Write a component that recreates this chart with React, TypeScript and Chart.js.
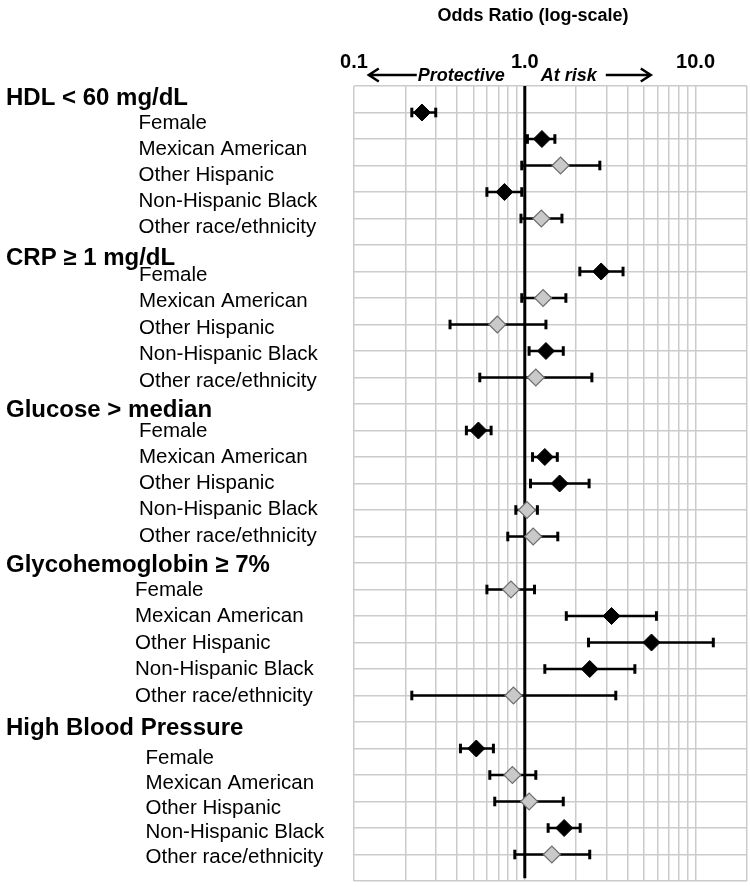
import React, { useEffect, useRef } from 'react';
import { Chart, registerables } from 'chart.js';

Chart.register(...registerables);

// ---------------- data ----------------
const groups = ['HDL < 60 mg/dL', 'CRP ≥ 1 mg/dL', 'Glucose > median', 'Glycohemoglobin ≥ 7%', 'High Blood Pressure'];
const subgroups = ['Female', 'Mexican American', 'Other Hispanic', 'Non-Hispanic Black', 'Other race/ethnicity'];

// odds ratio per group (rows follow subgroups)
const oddsRatio = [
  [0.25, 1.26, 1.62, 0.76, 1.25],
  [2.8, 1.28, 0.69, 1.33, 1.16],
  [0.535, 1.31, 1.6, 1.03, 1.12],
  [0.83, 3.22, 5.52, 2.4, 0.858],
  [0.52, 0.846, 1.06, 1.7, 1.44],
];
const lowerCI = [
  [0.218, 1.036, 0.96, 0.6, 0.95],
  [2.1, 0.96, 0.365, 1.06, 0.545],
  [0.455, 1.11, 1.08, 0.886, 0.795],
  [0.6, 1.75, 2.36, 1.31, 0.218],
  [0.42, 0.624, 0.667, 1.37, 0.874],
];
const upperCI = [
  [0.301, 1.5, 2.75, 0.96, 1.65],
  [3.76, 1.74, 1.33, 1.68, 2.47],
  [0.635, 1.55, 2.38, 1.185, 1.56],
  [1.14, 5.9, 12.7, 4.41, 3.41],
  [0.655, 1.16, 1.68, 2.11, 2.4],
];

const tickValues = [0.1, 1, 10];
const tickLabels = ['0.1', '1.0', '10.0'];
const axisTitle = 'Odds Ratio (log-scale)';
const leftNote = 'Protective';
const rightNote = 'At risk';

// ---------------- layout / style ----------------
const FONT = '"Liberation Sans", Arial, Helvetica, sans-serif';
const GRID = '#cbcbcb';
const headerBaselines = [105, 265, 416.7, 572.3, 735];
const itemFirstBaseline = [129.3, 280.7, 436.7, 596, 764];
const itemSpacing = [25.8, 26.5, 26.25, 26.4, 24.8];
const itemX = [138.5, 139, 139, 135, 145.5];
const ROWS_PER_GROUP = subgroups.length + 1;
const TOTAL_ROWS = groups.length * ROWS_PER_GROUP;

function rowOf(g: number, i: number) {
  return g * ROWS_PER_GROUP + 1 + i;
}

function drawArrow(ctx: CanvasRenderingContext2D, fromX: number, toX: number, y: number) {
  const d = Math.sign(toX - fromX);
  ctx.beginPath();
  ctx.moveTo(fromX, y);
  ctx.lineTo(toX, y);
  ctx.moveTo(toX - d * 10, y - 6.5);
  ctx.lineTo(toX, y);
  ctx.lineTo(toX - d * 10, y + 6.5);
  ctx.stroke();
}

const textPlugin = {
  id: 'forestText',
  afterDraw(chart: any) {
    const ctx: CanvasRenderingContext2D = chart.ctx;
    const xs = chart.scales.x;
    const one = xs.getPixelForValue(1);
    ctx.save();
    ctx.fillStyle = '#000';
    ctx.strokeStyle = '#000';
    ctx.textBaseline = 'alphabetic';
    ctx.textAlign = 'center';
    ctx.font = `bold 18px ${FONT}`;
    ctx.fillText(axisTitle, 533, 21);

    ctx.font = `italic bold 18px ${FONT}`;
    ctx.textAlign = 'right';
    ctx.fillText(leftNote, one - 20, 80.5);
    ctx.textAlign = 'left';
    ctx.fillText(rightNote, one + 16, 80.5);
    ctx.lineWidth = 2.5;
    drawArrow(ctx, one - 108, one - 156, 75);
    drawArrow(ctx, one + 81, one + 126, 75);

    ctx.textAlign = 'left';
    groups.forEach((g, gi) => {
      ctx.font = `bold 24px ${FONT}`;
      ctx.fillText(g, 6, headerBaselines[gi]);
      ctx.font = `20.5px ${FONT}`;
      subgroups.forEach((s, si) => {
        ctx.fillText(s, itemX[gi], itemFirstBaseline[gi] + si * itemSpacing[gi]);
      });
    });
    ctx.restore();
  },
};

function isWholeMantissa(v: number) {
  const m = v / Math.pow(10, Math.floor(Math.log10(v) + 1e-9));
  return Math.abs(m - Math.round(m)) < 1e-6;
}

export default function App() {
  const ref = useRef<HTMLCanvasElement | null>(null);

  useEffect(() => {
    if (!ref.current) return;

    const sigPts: any[] = [];
    const nsPts: any[] = [];
    const ciSets: any[] = [];
    groups.forEach((_, g) => {
      subgroups.forEach((__, i) => {
        const y = rowOf(g, i);
        const pt = { x: oddsRatio[g][i], y };
        const significant = lowerCI[g][i] > 1 || upperCI[g][i] < 1;
        (significant ? sigPts : nsPts).push(pt);
        ciSets.push({
          type: 'scatter',
          data: [
            { x: lowerCI[g][i], y },
            { x: upperCI[g][i], y },
          ],
          showLine: true,
          borderColor: '#000',
          borderWidth: 2.5,
          pointStyle: 'line',
          rotation: 90,
          pointRadius: 4.8,
          pointBorderWidth: 3,
          pointBorderColor: '#000',
          order: 2,
        });
      });
    });

    const datasets: any[] = [
      {
        data: sigPts,
        pointStyle: 'rectRot',
        pointRadius: 8.5,
        backgroundColor: '#000',
        borderColor: '#000',
        borderWidth: 1,
        order: 0,
      },
      {
        data: nsPts,
        pointStyle: 'rectRot',
        pointRadius: 8.5,
        backgroundColor: '#c9c9c9',
        borderColor: '#6e6e6e',
        borderWidth: 1.2,
        order: 1,
      },
      ...ciSets,
      {
        data: [
          { x: 1, y: 0 },
          { x: 1, y: TOTAL_ROWS - 0.1 },
        ],
        showLine: true,
        borderColor: '#000',
        borderWidth: 3,
        pointRadius: 0,
        order: 3,
      },
    ];

    const chart = new Chart(ref.current, {
      type: 'scatter',
      data: { datasets },
      options: {
        animation: false,
        responsive: false,
        devicePixelRatio: 1,
        events: [],
        layout: { autoPadding: false, padding: { left: 354, right: 3, top: 0, bottom: 6 } },
        plugins: {
          legend: { display: false },
          tooltip: { enabled: false },
          title: { display: false },
        },
        scales: {
          x: {
            type: 'logarithmic',
            position: 'top',
            min: 0.1,
            max: 20,
            afterBuildTicks: (s: any) => {
              s.ticks = s.ticks.filter((t: any) => isWholeMantissa(t.value));
            },
            afterFit: (s: any) => {
              s.height = 86;
              s.paddingLeft = 0;
              s.paddingRight = 0;
            },
            grid: { color: GRID, lineWidth: 1.5, drawTicks: false },
            border: { display: false },
            ticks: {
              autoSkip: false,
              maxRotation: 0,
              minRotation: 0,
              padding: 11.5,
              color: '#000',
              font: { family: FONT, size: 20, weight: 'bold' },
              callback: (v: any) => {
                const n = Number(v);
                const idx = tickValues.findIndex((t) => Math.abs(t - n) < 1e-9 * Math.max(1, t));
                return idx >= 0 ? tickLabels[idx] : '';
              },
            },
          },
          y: {
            type: 'linear',
            min: 0,
            max: TOTAL_ROWS,
            reverse: true,
            afterFit: (s: any) => {
              s.width = 0;
            },
            ticks: { display: false, stepSize: 1 },
            grid: { color: GRID, lineWidth: 1.5, drawTicks: false },
            border: { display: false },
          },
        },
      } as any,
      plugins: [textPlugin],
    });

    return () => chart.destroy();
  }, []);

  return (
    <canvas
      ref={ref}
      width={750}
      height={887}
      style={{ position: 'absolute', left: 0, top: 0, width: 750, height: 887 }}
    />
  );
}
